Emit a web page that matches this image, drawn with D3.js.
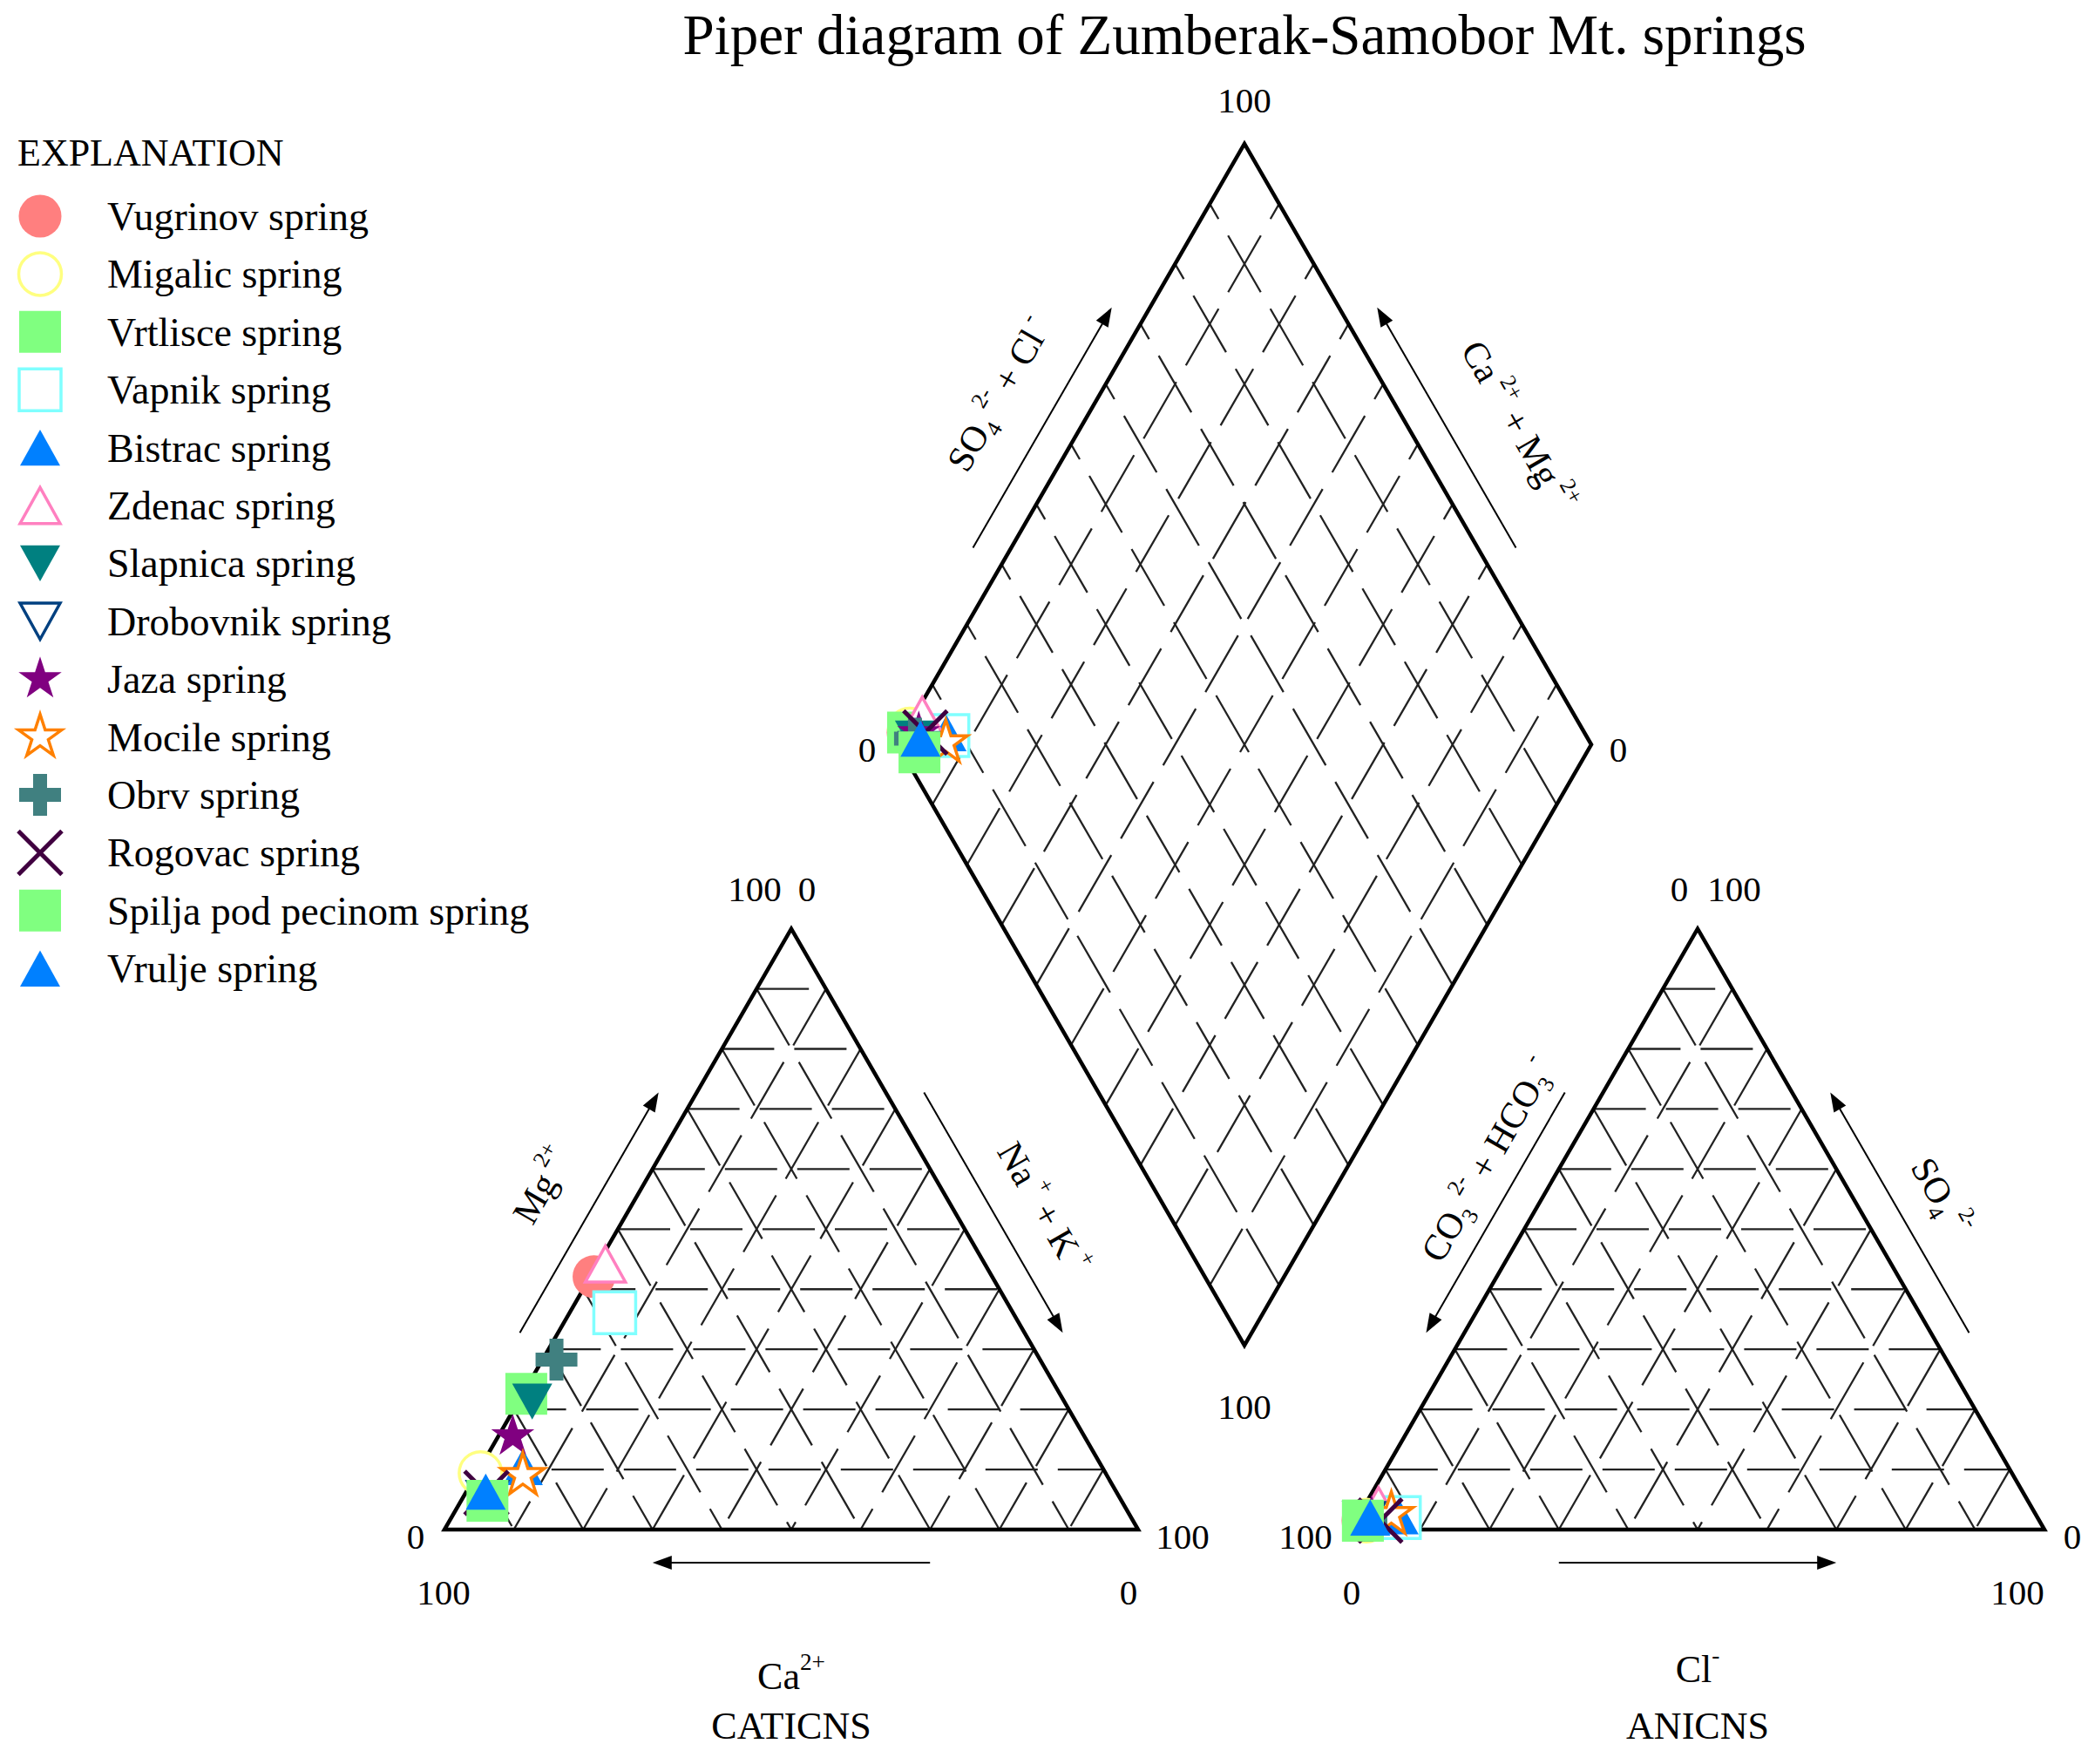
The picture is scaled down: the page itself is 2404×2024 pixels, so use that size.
<!DOCTYPE html>
<html>
<head>
<meta charset="utf-8">
<title>Piper diagram of Zumberak-Samobor Mt. springs</title>
<script src="https://d3js.org/d3.v7.min.js"></script>
<style>
  body {margin:0; background:#fff;}
  text {font-family:"Liberation Serif","Times New Roman",serif; fill:#000;}
  .grid {fill:none; stroke:#222; stroke-width:2.3px;}
  .gridH {stroke-dasharray:60 23;}
  .gridD {stroke-dasharray:75 22;}
  .frame {fill:none; stroke:#000; stroke-width:4.5px; stroke-linejoin:miter;}
  .arrow {stroke:#000; stroke-width:2px;}
</style>
</head>
<body>
<svg id="chart" width="2404" height="2024"></svg>
<script>
// ---- data (% of meq) ----
var springs = ["Vugrinov spring", "Migalic spring", "Vrtlisce spring", "Vapnik spring",
  "Bistrac spring", "Zdenac spring", "Slapnica spring", "Drobovnik spring", "Jaza spring",
  "Mocile spring", "Obrv spring", "Rogovac spring", "Spilja pod pecinom spring", "Vrulje spring"];
var markerShapes = ["circle", "circle", "square", "square", "triangle", "triangle", "triangleDown",
  "triangleDown", "star", "star", "cross", "times", "square", "triangle"];
var markerFilled = [true, false, true, false, true, false, true, false, true, false, true, false, true, true];
var markerColors = ["#ff7f7f", "#ffff80", "#80ff80", "#80ffff", "#0080ff", "#ff80c0", "#008080",
  "#004080", "#800080", "#ff8000", "#408080", "#400040", "#80ff80", "#0080ff"];

var caPct  = [57.4, 90.1, 76.9, 57.4, 83.5, 54.7, 76.7, 91.3, 82.4, 84.2, 69.7, 90.9, 91.4, 90.9];
var mgPct  = [42.1,  9.4, 22.6, 36.1, 10.4, 44.2, 21.3,  5.0, 15.5,  9.0, 28.3,  6.1,  4.8,  6.3];
var naKPct = [ 0.5,  0.5,  0.5,  6.5,  6.1,  1.1,  2.0,  3.7,  2.1,  6.8,  2.0,  3.0,  3.8,  2.8];

var hco3Pct = [97.5, 97.0, 97.5, 92.0, 92.0, 94.0, 97.0, 97.3, 96.0, 92.9, 97.0, 95.0, 97.5, 96.2];
var so4Pct  = [ 1.5,  1.5,  1.5,  2.0,  2.2,  4.0,  1.5,  1.5,  2.0,  2.5,  1.5,  1.5,  1.5,  2.0];
var clPct   = [ 1.0,  1.5,  1.0,  6.0,  5.8,  2.0,  1.5,  1.2,  2.0,  4.6,  1.5,  3.5,  1.0,  1.8];

var cationTicks = ["100", "0", "0", "100", "100", "0"];   // apex L/R, base L/R, below L/R
var anionTicks  = ["0", "100", "100", "0", "0", "100"];
var diamondTicks = ["100", "0", "0", "100"];              // top, left, right, bottom

// ---- layout ----
var W = 2404, H = 2024;
var S = 796, GAP = 244, BASE_Y = 1755, X0 = 510;
var H3 = Math.sqrt(3) / 2;
var side = d3.scaleLinear().domain([0, 100]).range([0, S]);

var svg = d3.select("#chart");
svg.append("rect").attr("width", W).attr("height", H).attr("fill", "#fff");

function triPoint(x0, right, top) {
  return [x0 + side(right) + side(top) / 2, BASE_Y - side(top) * H3];
}
var AX0 = X0 + S + GAP;
var dB = [X0 + S + GAP / 2, BASE_Y - GAP * H3];
function diamondPoint(caMg, so4Cl) {
  return [dB[0] - side(caMg) / 2 + side(so4Cl) / 2, dB[1] - (side(caMg) + side(so4Cl)) * H3];
}

var cat = {ca: triPoint(X0, 0, 0), na: triPoint(X0, 100, 0), mg: triPoint(X0, 0, 100)};
var an = {co3: triPoint(AX0, 0, 0), cl: triPoint(AX0, 100, 0), so4: triPoint(AX0, 0, 100)};
var dia = {b: diamondPoint(0, 0), l: diamondPoint(100, 0), t: diamondPoint(100, 100), r: diamondPoint(0, 100)};

// ---- grid (dash pattern runs from the first point of each segment) ----
var levels = d3.range(10, 100, 10);
function triGrid(x0) {
  var segs = [];
  levels.forEach(function (k) {
    segs.push({cls: "gridH", p: [triPoint(x0, 0, k), triPoint(x0, 100 - k, k)]});
    segs.push({cls: "gridD", p: [triPoint(x0, k, 100 - k), triPoint(x0, k, 0)]});
    segs.push({cls: "gridD", p: [triPoint(x0, 0, 100 - k), triPoint(x0, 100 - k, 0)]});
  });
  return segs;
}
var diaSegs = [];
levels.forEach(function (k) {
  diaSegs.push({cls: "gridD", p: [diamondPoint(k, 0), diamondPoint(k, 100)]});
  diaSegs.push({cls: "gridD", p: [diamondPoint(0, k), diamondPoint(100, k)]});
});
var line = d3.line();
svg.append("g").selectAll("path")
  .data(triGrid(X0).concat(triGrid(AX0), diaSegs))
  .join("path").attr("class", function (d) { return "grid " + d.cls; })
  .attr("d", function (d) { return line(d.p); });

// ---- frames ----
[[cat.ca, cat.na, cat.mg], [an.co3, an.cl, an.so4], [dia.b, dia.r, dia.t, dia.l]].forEach(function (p) {
  svg.append("path").attr("class", "frame").attr("d", line(p) + "Z");
});

// ---- arrows and axis labels ----
function edgeFrame(p, q, centre, t, d) {
  var dx = q[0] - p[0], dy = q[1] - p[1], len = Math.hypot(dx, dy);
  var ux = dx / len, uy = dy / len, nx = uy, ny = -ux;
  var mx = (p[0] + q[0]) / 2, my = (p[1] + q[1]) / 2;
  if ((mx - centre[0]) * nx + (my - centre[1]) * ny < 0) { nx = -nx; ny = -ny; }
  return [p[0] + dx * t + nx * d, p[1] + dy * t + ny * d];
}
function arrow(p, q, centre) {
  var a = edgeFrame(p, q, centre, 0.3, 38), b = edgeFrame(p, q, centre, 0.7, 38);
  var ang = Math.atan2(b[1] - a[1], b[0] - a[0]) * 180 / Math.PI;
  var len = Math.hypot(b[0] - a[0], b[1] - a[1]);
  var g = svg.append("g").attr("transform", "translate(" + a + ") rotate(" + ang + ")");
  g.append("line").attr("class", "arrow").attr("x1", 0).attr("y1", 0).attr("x2", len - 14).attr("y2", 0);
  g.append("path").attr("d", "M" + len + ",0L" + (len - 22) + ",-8L" + (len - 22) + ",8Z").attr("fill", "#000");
}
function edgeLabel(p, q, centre, t, d, angle, parts, fs) {
  var c = edgeFrame(p, q, centre, t, d);
  var txt = svg.append("text").attr("transform", "translate(" + c + ") rotate(" + angle + ")")
    .attr("text-anchor", "middle").attr("font-size", fs).attr("y", fs * 0.33);
  addParts(txt, parts, fs);
}
function addParts(txt, parts, fs) {
  var shift = 0;
  parts.forEach(function (pt) {
    var target = pt[1] === "sup" ? -0.5 * fs : pt[1] === "sub" ? 0.22 * fs : 0;
    txt.append("tspan").attr("dy", target - shift)
      .attr("font-size", pt[1] === "n" ? fs : fs * 0.62).text(pt[0]);
    shift = target;
  });
}

var catC = [(cat.ca[0] + cat.na[0] + cat.mg[0]) / 3, (cat.ca[1] + cat.na[1] + cat.mg[1]) / 3];
var anC = [(an.co3[0] + an.cl[0] + an.so4[0]) / 3, (an.co3[1] + an.cl[1] + an.so4[1]) / 3];
var diaC = [dB[0], (dia.t[1] + dia.b[1]) / 2];

arrow(cat.ca, cat.mg, catC);
arrow(cat.mg, cat.na, catC);
arrow(cat.na, cat.ca, catC);
arrow(an.so4, an.co3, anC);
arrow(an.cl, an.so4, anC);
arrow(an.co3, an.cl, anC);
arrow(dia.l, dia.t, diaC);
arrow(dia.r, dia.t, diaC);

var FS = 42;
edgeLabel(cat.ca, cat.mg, catC, 0.50, 100, -60, [["Mg", "n"], [" 2+", "sup"]], FS);
edgeLabel(cat.mg, cat.na, catC, 0.53, 90, 60, [["Na", "n"], [" +", "sup"], [" + K", "n"], [" +", "sup"]], FS);
edgeLabel(an.co3, an.so4, anC, 0.56, 76, -60,
  [["CO", "n"], ["3", "sub"], [" 2-", "sup"], [" + HCO", "n"], ["3", "sub"], [" -", "sup"]], FS);
edgeLabel(an.so4, an.cl, anC, 0.51, 88, 60, [["SO", "n"], ["4", "sub"], ["  2-", "sup"]], FS);
edgeLabel(dia.l, dia.t, diaC, 0.51, 100, -60, [["SO", "n"], ["4", "sub"], [" 2-", "sup"], [" + Cl", "n"], [" -", "sup"]], FS);
edgeLabel(dia.t, dia.r, diaC, 0.55, 110, 60, [["Ca", "n"], [" 2+", "sup"], [" + Mg", "n"], [" 2+", "sup"]], FS);

// bottom captions
var capCa = svg.append("text").attr("x", cat.mg[0]).attr("y", 1938).attr("text-anchor", "middle").attr("font-size", 44);
addParts(capCa, [["Ca", "n"], ["2+", "sup"]], 44);
svg.append("text").attr("x", cat.mg[0]).attr("y", 1995).attr("text-anchor", "middle").attr("font-size", 44).text("CATICNS");
var capCl = svg.append("text").attr("x", an.so4[0]).attr("y", 1930).attr("text-anchor", "middle").attr("font-size", 44);
addParts(capCl, [["Cl", "n"], ["-", "sup"]], 44);
svg.append("text").attr("x", an.so4[0]).attr("y", 1995).attr("text-anchor", "middle").attr("font-size", 44).text("ANICNS");

// ---- tick labels ----
function tick(x, y, s) {
  svg.append("text").attr("x", x).attr("y", y).attr("text-anchor", "middle").attr("font-size", 41).text(s);
}
tick(cat.mg[0] - 42, cat.mg[1] - 32, cationTicks[0]);
tick(cat.mg[0] + 18, cat.mg[1] - 32, cationTicks[1]);
tick(cat.ca[0] - 33, BASE_Y + 22, cationTicks[2]);
tick(cat.na[0] + 51, BASE_Y + 22, cationTicks[3]);
tick(cat.ca[0] - 1, BASE_Y + 86, cationTicks[4]);
tick(cat.na[0] - 11, BASE_Y + 86, cationTicks[5]);
tick(an.so4[0] - 21, an.so4[1] - 32, anionTicks[0]);
tick(an.so4[0] + 42, an.so4[1] - 32, anionTicks[1]);
tick(an.co3[0] - 52, BASE_Y + 22, anionTicks[2]);
tick(an.cl[0] + 32, BASE_Y + 22, anionTicks[3]);
tick(an.co3[0] + 1, BASE_Y + 86, anionTicks[4]);
tick(an.cl[0] - 31, BASE_Y + 86, anionTicks[5]);
tick(dia.t[0], dia.t[1] - 36, diamondTicks[0]);
tick(dia.l[0] - 35, dia.l[1] + 20, diamondTicks[1]);
tick(dia.r[0] + 31, dia.r[1] + 20, diamondTicks[2]);
tick(dia.b[0], dia.b[1] + 84, diamondTicks[3]);

// ---- markers ----
var shapeTypes = {
  circle: d3.symbolCircle,
  square: d3.symbolSquare,
  star: d3.symbolStar,
  cross: d3.symbolCross,
  triangle: {draw: function (c, s) { var w = Math.sqrt(s) / 2; c.moveTo(0, -w * 0.9); c.lineTo(w, w * 0.9); c.lineTo(-w, w * 0.9); c.closePath(); }},
  triangleDown: {draw: function (c, s) { var w = Math.sqrt(s) / 2; c.moveTo(0, w * 0.9); c.lineTo(w, -w * 0.9); c.lineTo(-w, -w * 0.9); c.closePath(); }},
  times: {draw: function (c, s) { var r = Math.sqrt(s) / 2; c.moveTo(-r, -r); c.lineTo(r, r); c.moveTo(-r, r); c.lineTo(r, -r); }}
};
var shapeSizes = {circle: 1886, square: 2304, star: 760, cross: 1280, triangle: 2116, triangleDown: 2116, times: 2500};
function marker(g, i, x, y) {
  var sh = markerShapes[i];
  var p = g.append("path").attr("transform", "translate(" + x + "," + y + ")")
    .attr("d", d3.symbol().type(shapeTypes[sh]).size(shapeSizes[sh])());
  if (sh === "times") {
    p.attr("fill", "none").attr("stroke", markerColors[i]).attr("stroke-width", 5);
  } else if (markerFilled[i]) {
    p.attr("fill", markerColors[i]);
  } else {
    p.attr("fill", "#fff").attr("stroke", markerColors[i]).attr("stroke-width", 3.5);
  }
}
var pts = svg.append("g");
springs.forEach(function (s, i) {
  var c = triPoint(X0, naKPct[i], mgPct[i]);
  marker(pts, i, c[0], c[1]);
  var a = triPoint(AX0, clPct[i], so4Pct[i]);
  marker(pts, i, a[0], a[1]);
  var d = diamondPoint(caPct[i] + mgPct[i], so4Pct[i] + clPct[i]);
  marker(pts, i, d[0], d[1]);
});

// ---- legend ----
var leg = svg.append("g");
leg.append("text").attr("x", 20).attr("y", 190).attr("font-size", 44).text("EXPLANATION");
springs.forEach(function (s, i) {
  var y = 248 + i * 66.4;
  marker(leg, i, 46, y);
  leg.append("text").attr("x", 123).attr("y", y + 16).attr("font-size", 46).text(s);
});

// ---- title ----
svg.append("text").attr("x", 1428).attr("y", 62).attr("text-anchor", "middle")
  .attr("font-size", 65).text("Piper diagram of Zumberak-Samobor Mt. springs");
</script>
</body>
</html>
